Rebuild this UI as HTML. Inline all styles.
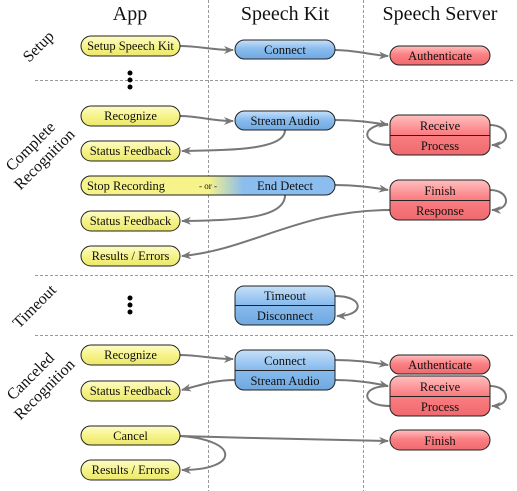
<!DOCTYPE html>
<html><head><meta charset="utf-8"><style>
html,body{margin:0;padding:0;background:#fff;width:517px;height:491px;overflow:hidden}
text{font-family:"Liberation Serif","DejaVu Serif",serif;fill:#111}
</style></head><body>
<svg width="517" height="491" viewBox="0 0 517 491" xmlns="http://www.w3.org/2000/svg">
<defs>
<linearGradient id="y" x1="0" y1="0" x2="0" y2="1"><stop offset="0" stop-color="#fdfdc8"/><stop offset="0.5" stop-color="#f6f38a"/><stop offset="1" stop-color="#ece86a"/></linearGradient>
<linearGradient id="b" x1="0" y1="0" x2="0" y2="1"><stop offset="0" stop-color="#c7e0f8"/><stop offset="0.45" stop-color="#8bbdee"/><stop offset="1" stop-color="#6fa8e0"/></linearGradient>
<linearGradient id="r" x1="0" y1="0" x2="0" y2="1"><stop offset="0" stop-color="#ffc0c0"/><stop offset="0.45" stop-color="#fb8084"/><stop offset="1" stop-color="#ef6a6e"/></linearGradient>
<linearGradient id="yb" x1="0" y1="0" x2="1" y2="0"><stop offset="0.5" stop-color="#f6f38a"/><stop offset="0.64" stop-color="#8bbdee"/></linearGradient>
<marker id="a" markerWidth="10" markerHeight="8" refX="9" refY="4" orient="auto" markerUnits="userSpaceOnUse"><path d="M0,0 L10,4 L0,8 L3,4z" fill="#777"/></marker>
</defs>
<g stroke="#999" stroke-dasharray="3,2" stroke-width="1">
<line x1="208.5" y1="0" x2="208.5" y2="491"/><line x1="363.5" y1="0" x2="363.5" y2="491"/>
<line x1="35" y1="80.5" x2="513" y2="80.5"/><line x1="35" y1="275.5" x2="513" y2="275.5"/><line x1="35" y1="335.5" x2="513" y2="335.5"/>
</g>
<g font-size="20" text-anchor="middle"><text x="130" y="20">App</text><text x="285" y="20">Speech Kit</text><text x="440" y="20">Speech Server</text></g>
<g font-size="16" text-anchor="middle">
<text transform="translate(42,50) rotate(-45)">Setup</text>
<text transform="translate(34,150) rotate(-45)">Complete</text><text transform="translate(48,163) rotate(-45)">Recognition</text>
<text transform="translate(38,310) rotate(-45)">Timeout</text>
<text transform="translate(34,380) rotate(-45)">Canceled</text><text transform="translate(48,393) rotate(-45)">Recognition</text>
</g>
<g fill="#000"><circle cx="130" cy="73" r="2.5"/><circle cx="130" cy="80" r="2.5"/><circle cx="130" cy="87" r="2.5"/>
<circle cx="130" cy="298" r="2.5"/><circle cx="130" cy="305" r="2.5"/><circle cx="130" cy="312" r="2.5"/></g>
<g fill="none" stroke="#777" stroke-width="2" marker-end="url(#a)">
<path d="M180,46 C200,46 210,50 233,50"/>
<path d="M335,50 C355,50 370,55 388,56"/>
<path d="M180,116 C200,116 210,121 233,121"/>
<path d="M335,120 C355,120 370,122 388,125"/>
<path d="M390,145 C360,145 360,125 388,124" marker-end="none"/>
<path d="M490,125 C510,125 512,145 492,145"/>
<path d="M285,130 C285,150 230,150 182,151"/>
<path d="M335,185 C355,185 370,187 388,190"/>
<path d="M490,190 C510,190 512,210 492,210"/>
<path d="M285,195 C285,220 230,220 182,221"/>
<path d="M390,210 C300,210 250,250 182,256"/>
<path d="M335,296 C365,296 365,316 337,316"/>
<path d="M180,355 C200,355 210,359 233,359"/>
<path d="M335,360 C355,360 370,362 388,365"/>
<path d="M335,380 C355,380 370,382 388,386"/>
<path d="M390,406 C360,406 360,386 388,386" marker-end="none"/>
<path d="M490,386 C510,386 512,406 492,406"/>
<path d="M235,380 C215,380 200,385 182,390"/>
<path d="M180,436 C250,438 330,440 388,441"/>
<path d="M180,436 C240,440 240,470 182,470"/>
</g>
<g stroke="#222" stroke-width="1">
<rect x="81" y="36" width="99" height="20" rx="10" fill="url(#y)"/>
<rect x="81" y="106" width="99" height="20" rx="10" fill="url(#y)"/>
<rect x="81" y="141" width="99" height="20" rx="10" fill="url(#y)"/>
<rect x="81" y="176" width="254" height="19" rx="9.5" fill="url(#yb)"/>
<rect x="81" y="211" width="99" height="20" rx="10" fill="url(#y)"/>
<rect x="81" y="246" width="99" height="20" rx="10" fill="url(#y)"/>
<rect x="81" y="345" width="99" height="20" rx="10" fill="url(#y)"/>
<rect x="81" y="381" width="99" height="20" rx="10" fill="url(#y)"/>
<rect x="81" y="426" width="99" height="19" rx="9.5" fill="url(#y)"/>
<rect x="81" y="460" width="99" height="20" rx="10" fill="url(#y)"/>
<rect x="235" y="40" width="100" height="19" rx="9.5" fill="url(#b)"/>
<rect x="235" y="111" width="100" height="19" rx="9.5" fill="url(#b)"/>
<rect x="235" y="286" width="100" height="39" rx="9" fill="url(#b)"/><line x1="235" y1="305.5" x2="335" y2="305.5"/>
<rect x="235" y="350" width="100" height="40" rx="9" fill="url(#b)"/><line x1="235" y1="370.5" x2="335" y2="370.5"/>
<rect x="390" y="46" width="100" height="19" rx="9.5" fill="url(#r)"/>
<rect x="390" y="115" width="100" height="40" rx="9" fill="url(#r)"/><line x1="390" y1="135.5" x2="490" y2="135.5"/>
<rect x="390" y="180" width="100" height="40" rx="9" fill="url(#r)"/><line x1="390" y1="200.5" x2="490" y2="200.5"/>
<rect x="390" y="355" width="100" height="19" rx="9.5" fill="url(#r)"/>
<rect x="390" y="376" width="100" height="40" rx="9" fill="url(#r)"/><line x1="390" y1="396.5" x2="490" y2="396.5"/>
<rect x="390" y="430" width="100" height="20" rx="10" fill="url(#r)"/>
</g>
<g font-size="12.5" text-anchor="middle">
<text x="130.5" y="50">Setup Speech Kit</text>
<text x="130.5" y="120">Recognize</text>
<text x="130.5" y="155">Status Feedback</text>
<text x="126" y="190">Stop Recording</text>
<text x="208" y="189" font-size="9">- or -</text>
<text x="285" y="190">End Detect</text>
<text x="130.5" y="225">Status Feedback</text>
<text x="130.5" y="260">Results / Errors</text>
<text x="130.5" y="359">Recognize</text>
<text x="130.5" y="395">Status Feedback</text>
<text x="130.5" y="440">Cancel</text>
<text x="130.5" y="474">Results / Errors</text>
<text x="285" y="54">Connect</text>
<text x="285" y="125">Stream Audio</text>
<text x="285" y="300">Timeout</text>
<text x="285" y="320">Disconnect</text>
<text x="285" y="365">Connect</text>
<text x="285" y="385">Stream Audio</text>
<text x="440" y="60">Authenticate</text>
<text x="440" y="130">Receive</text>
<text x="440" y="150">Process</text>
<text x="440" y="195">Finish</text>
<text x="440" y="215">Response</text>
<text x="440" y="369">Authenticate</text>
<text x="440" y="391">Receive</text>
<text x="440" y="411">Process</text>
<text x="440" y="445">Finish</text>
</g>
</svg>
</body></html>
